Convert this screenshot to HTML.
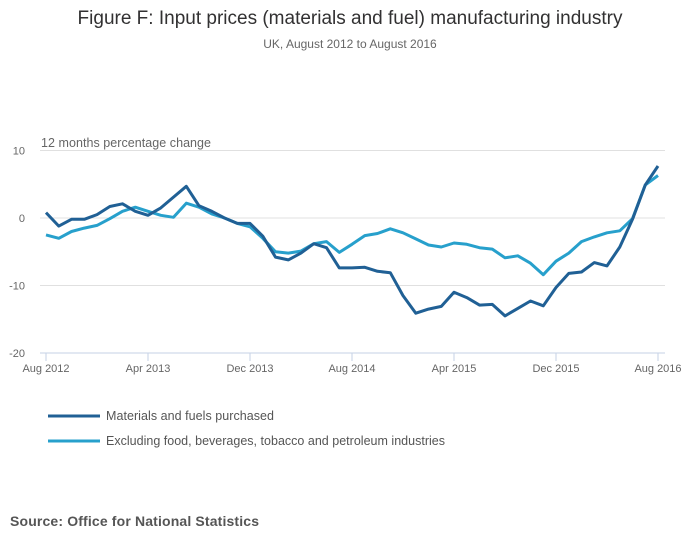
<!DOCTYPE html>
<html><head><meta charset="utf-8"><style>
body{margin:0;background:#fff;font-family:"Liberation Sans",sans-serif;}
svg{display:block}
text{font-family:"Liberation Sans",sans-serif;}
</style></head><body>
<svg id="chart" width="700" height="549">
<text x="350" y="24" text-anchor="middle" font-size="19" fill="#323132">Figure F: Input prices (materials and fuel) manufacturing industry</text>
<text x="350" y="48" text-anchor="middle" font-size="12" fill="#666">UK, August 2012 to August 2016</text>
<text x="41" y="147" font-size="12.5" fill="#666" textLength="170">12 months percentage change</text>
<g id="grid"></g><g id="xaxis"></g><g id="series"></g>
<g>
<line x1="48" y1="416" x2="100" y2="416" stroke="#206095" stroke-width="3"/>
<text x="106" y="420" font-size="12.5" fill="#555" textLength="168">Materials and fuels purchased</text>
<line x1="48" y1="441" x2="100" y2="441" stroke="#27a0cc" stroke-width="3"/>
<text x="106" y="445" font-size="12.5" fill="#555" textLength="339">Excluding food, beverages, tobacco and petroleum industries</text>
</g>
<text x="10" y="526" font-size="14" font-weight="bold" fill="#555" textLength="249">Source: Office for National Statistics</text>
</svg>
<script>
const yTicks=[10,0,-10,-20];
const xTickLabels=["Aug 2012","Apr 2013","Dec 2013","Aug 2014","Apr 2015","Dec 2015","Aug 2016"];
const xTickIdx=[0,8,16,24,32,40,48];
const materials=[0.8,-1.2,-0.2,-0.2,0.5,1.7,2.1,1.0,0.4,1.5,3.1,4.7,1.8,1.0,0,-0.8,-0.8,-2.7,-5.8,-6.2,-5.2,-3.8,-4.4,-7.4,-7.4,-7.3,-7.9,-8.1,-11.5,-14.1,-13.5,-13.1,-11.0,-11.8,-12.9,-12.8,-14.5,-13.4,-12.3,-13.0,-10.3,-8.2,-8.0,-6.6,-7.1,-4.3,-0.2,4.9,7.7];
const excluding=[-2.5,-3.0,-2.0,-1.5,-1.1,-0.1,1.0,1.6,1.0,0.4,0.1,2.2,1.6,0.6,0,-0.8,-1.3,-3.0,-5.0,-5.2,-4.9,-3.8,-3.5,-5.1,-3.9,-2.6,-2.3,-1.6,-2.2,-3.1,-4.0,-4.3,-3.7,-3.9,-4.4,-4.6,-5.9,-5.6,-6.7,-8.4,-6.4,-5.2,-3.5,-2.8,-2.2,-1.9,-0.1,4.9,6.3];
const NS="http://www.w3.org/2000/svg";
const X=i=>46+i*(612/48);
const Y=v=>218-v*6.75;
function mk(tag,attrs,parent){const e=document.createElementNS(NS,tag);for(const k in attrs)e.setAttribute(k,attrs[k]);parent.appendChild(e);return e;}
const grid=document.getElementById('grid');
yTicks.forEach(t=>{
  if(t!==-20){const l=mk('line',{x1:40,x2:665,y1:Y(t),y2:Y(t),stroke:'#e0e0e0','stroke-width':1},grid);
  
  }
  const tx=mk('text',{x:25,y:Y(t)+4,'text-anchor':'end','font-size':11,fill:'#666'},grid);
  tx.textContent=t;
  
  
});
const xa=document.getElementById('xaxis');
const ax=mk('line',{x1:40,x2:665,y1:Y(-20),y2:Y(-20),stroke:'#c5d2e6','stroke-width':1},xa);


xTickIdx.forEach((idx,k)=>{
  const t=mk('line',{x1:X(idx),x2:X(idx),y1:Y(-20),y2:Y(-20)+8,stroke:'#c5d2e6','stroke-width':1},xa);
  
  
  const tx=mk('text',{x:X(idx),y:372,'text-anchor':'middle','font-size':11,fill:'#666'},xa);
  tx.textContent=xTickLabels[k];
  
  
});
const sg=document.getElementById('series');
[[excluding,'#27a0cc','line-excluding'],[materials,'#206095','line-materials']].forEach(([d,c,n])=>{
  const p=mk('path',{d:d.map((v,i)=>(i?'L':'M')+X(i).toFixed(1)+','+Y(v).toFixed(1)).join(''),fill:'none',stroke:c,'stroke-width':3,'stroke-linejoin':'round'},sg);
  
  
});
</script>
</body></html>
